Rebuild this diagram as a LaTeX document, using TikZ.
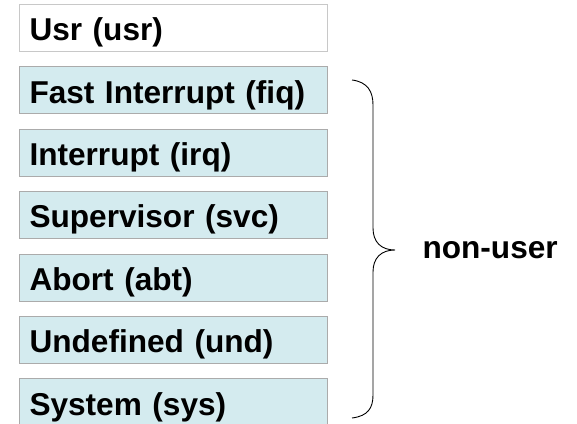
\documentclass[tikz,border=0pt]{standalone}
\usepackage{fontspec}
\setmainfont{Liberation Sans}
\usepackage{xcolor}
\definecolor{ModeFill}{HTML}{D4EBEF}
\definecolor{ModeLine}{HTML}{ABABAB}
\definecolor{UsrLine}{HTML}{C8C8C8}
\usepackage{tikz}
\usetikzlibrary{positioning}

\begin{document}
\begin{tikzpicture}[x=1pt, y=-1pt, line width=1pt,
    mode/.style={
    draw=ModeLine,
    fill=ModeFill,
    rectangle,
    text width=287pt,
    inner xsep=10.5pt,
    inner ysep=0pt,
    text height=29pt,
    text depth=3.6pt,
    minimum height=47pt,
    align=left,
    font=\fontsize{31.6}{36}\selectfont\bfseries}]
    \useasboundingbox (0,0) rectangle (577,423);

    \node [mode, draw=UsrLine, fill=white] (Usr) at (173,28) {Usr (usr)};
    \node [mode, below=14.4pt of Usr] (Fiq) {Fast Interrupt (fiq)};
    \node [mode, below=14.4pt of Fiq] (Irq) {Interrupt (irq)};
    \node [mode, below=14.4pt of Irq] (Svc) {Supervisor (svc)};
    \node [mode, below=14.4pt of Svc] (Abt) {Abort (abt)};
    \node [mode, below=14.4pt of Abt] (Und) {Undefined (und)};
    \node [mode, below=14.4pt of Und] (Sys) {System (sys)};

    \coordinate (BraceTop) at (352,80);
    \coordinate (BraceTip) at (395,250);
    \coordinate (BraceBot) at (352,418);
    \draw[line width=0.9pt] (BraceTop) .. controls (368,82) and (373,92) .. (373,105)
        -- (373,228) .. controls (373,242) and (381,250) .. (BraceTip)
        .. controls (381,250) and (373,258) .. (373,272)
        -- (373,395) .. controls (373,408) and (368,416) .. (BraceBot);

    \node [font=\fontsize{31.6}{36}\selectfont\bfseries, inner sep=0pt,
           right=27pt of BraceTip] (NonUser) {non-user};
\end{tikzpicture}
\end{document}
